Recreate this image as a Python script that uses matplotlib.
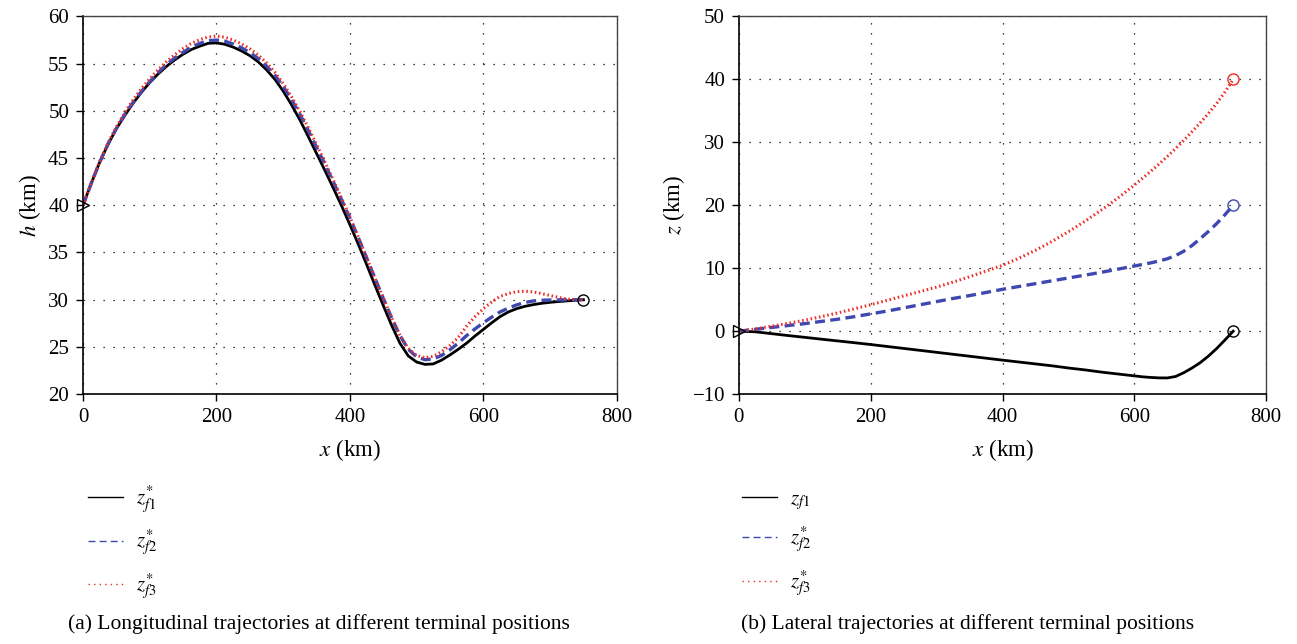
import numpy as np
import matplotlib
matplotlib.use('Agg')
import matplotlib.pyplot as plt
from matplotlib.lines import Line2D

plt.rcParams['font.family'] = ['Liberation Serif', 'DejaVu Serif']
plt.rcParams['mathtext.fontset'] = 'stix'
plt.rcParams['font.size'] = 15

BLACK = '#000000'
BLUE = '#3f48b0'
RED = '#ee2a24'

# longitudinal trajectories, h (km) against x (km)
x_long = np.arange(0, 750.1, 12.5)
h_f1 = [40.0, 42.35, 44.55, 46.45, 48.1, 49.5, 50.8, 51.95, 53.0, 53.9,
        54.7, 55.4, 56.0, 56.5, 56.85, 57.15, 57.2, 57.05, 56.75, 56.35,
        55.85, 55.2, 54.35, 53.35, 52.1, 50.65, 49.05, 47.3, 45.5, 43.7,
        41.85, 39.95, 37.95, 35.9, 33.75, 31.55, 29.4, 27.3, 25.4, 24.05,
        23.4, 23.15, 23.2, 23.6, 24.15, 24.75, 25.4, 26.15, 26.85, 27.55,
        28.2, 28.7, 29.05, 29.3, 29.48, 29.62, 29.72, 29.8, 29.87, 29.94,
        30.0]
h_f2 = [40.0, 42.35, 44.55, 46.5, 48.15, 49.6, 50.9, 52.05, 53.1, 54.05,
        54.9, 55.6, 56.2, 56.75, 57.15, 57.42, 57.5, 57.38, 57.08, 56.68,
        56.18, 55.55, 54.75, 53.8, 52.6, 51.2, 49.65, 47.95, 46.15, 44.35,
        42.5, 40.6, 38.65, 36.6, 34.45, 32.3, 30.15, 28.1, 26.2, 24.75,
        23.95, 23.65, 23.72, 24.1, 24.7, 25.4, 26.2, 26.9, 27.55, 28.15,
        28.7, 29.1, 29.45, 29.7, 29.87, 29.94, 29.97, 29.98, 29.99, 30.0,
        30.0]
h_f3 = [40.0, 42.4, 44.65, 46.6, 48.3, 49.8, 51.15, 52.35, 53.4, 54.35,
        55.2, 55.95, 56.6, 57.15, 57.55, 57.82, 57.92, 57.8, 57.5, 57.1,
        56.58, 55.92, 55.1, 54.1, 52.9, 51.5, 49.95, 48.25, 46.45, 44.6,
        42.7, 40.75, 38.75, 36.65, 34.5, 32.3, 30.15, 28.1, 26.25, 24.85,
        24.1, 23.85, 24.0, 24.5, 25.15, 26.0, 27.2, 28.2, 29.05, 29.75,
        30.35, 30.65, 30.85, 30.9, 30.82, 30.65, 30.45, 30.25, 30.07, 30.0,
        30.0]

# lateral trajectories, z (km) against x (km)
x_lat = np.concatenate([np.arange(0, 600.1, 25), np.arange(612.5, 750.1, 12.5)])
z_f1 = [0.0, -0.1, -0.4, -0.7, -0.98, -1.27, -1.55, -1.83, -2.12, -2.43,
        -2.74, -3.05, -3.36, -3.67, -3.98, -4.29, -4.6, -4.9, -5.2, -5.5,
        -5.85, -6.15, -6.5, -6.8, -7.1, -7.25, -7.35, -7.42, -7.43, -7.2,
        -6.6, -5.85, -5.0, -3.95, -2.75, -1.4, 0.0]
z_f2 = [0.0, 0.3, 0.6, 0.9, 1.2, 1.55, 1.9, 2.3, 2.75, 3.2,
        3.7, 4.2, 4.7, 5.2, 5.65, 6.15, 6.65, 7.1, 7.55, 8.0,
        8.45, 8.9, 9.35, 9.85, 10.35, 10.6, 10.85, 11.15, 11.5, 12.0,
        12.7, 13.6, 14.7, 15.85, 17.1, 18.5, 20.0]
z_f3 = [0.0, 0.35, 0.8, 1.25, 1.75, 2.3, 2.9, 3.55, 4.2, 4.9,
        5.6, 6.3, 7.0, 7.8, 8.65, 9.55, 10.45, 11.6, 12.85, 14.25,
        15.8, 17.45, 19.25, 21.15, 23.2, 24.3, 25.4, 26.55, 27.75, 29.0,
        30.3, 31.7, 33.1, 34.6, 36.2, 38.0, 40.0]

styles = [
    dict(color=BLACK, lw=2.0, ls='-'),
    dict(color=BLUE, lw=2.4, ls=(0, (3.0, 1.6))),
    dict(color=RED, lw=2.2, ls=(0, (0.5, 0.9))),
]
legend_styles = [
    dict(color=BLACK, lw=1.0, ls='-'),
    dict(color=BLUE, lw=1.0, ls=(0, (5, 3))),
    dict(color=RED, lw=1.0, ls=(0, (1, 3))),
]


def style_axes(ax):
    ax.set_xlim(0, 800)
    ax.set_xticks(range(0, 801, 200))
    ax.grid(True, color='black', ls=(0, (1, 7)), lw=0.9)
    ax.tick_params(direction='out', length=5, width=1, top=False, right=False,
                   labelsize=15, pad=5)
    for side in ['left', 'bottom']:
        ax.spines[side].set_linewidth(1.2)
    for side in ['top', 'right']:
        ax.spines[side].set_color('#444444')
        ax.spines[side].set_linewidth(1.0)
    ax.set_xlabel('$x$ (km)', fontsize=16.5, labelpad=7)


def add_legend(ax, labels, x0, y0):
    handles = [Line2D([], [], **s) for s in legend_styles]
    ax.legend(handles, labels, loc='upper left', bbox_to_anchor=(x0, y0),
              bbox_transform=ax.figure.transFigure, frameon=False,
              handlelength=1.68, handletextpad=0.6, labelspacing=0.64,
              fontsize=15)


fig = plt.figure(figsize=(12.97, 6.44), dpi=100)
ax1 = fig.add_axes([0.064, 0.388, 0.4115, 0.5865])
ax2 = fig.add_axes([0.5697, 0.388, 0.4065, 0.5865])

for h, s in zip([h_f1, h_f2, h_f3], styles):
    ax1.plot(x_long, h, **s)
ax1.plot(x_long[0], h_f1[0], marker='>', ms=9, mfc='none', mec=BLACK, mew=1.0,
         clip_on=False, zorder=5)
ax1.plot(x_long[-1], h_f1[-1], marker='o', ms=8, mfc='none', mec=BLACK, mew=1.0,
         zorder=5)
ax1.set_ylim(20, 60)
ax1.set_yticks(range(20, 61, 5))
ax1.set_ylabel('$h$ (km)', fontsize=16.5, labelpad=4)
style_axes(ax1)

for z, s in zip([z_f1, z_f2, z_f3], styles):
    ax2.plot(x_lat, z, **s)
ax2.plot(x_lat[0], z_f1[0], marker='>', ms=9, mfc='none', mec=BLACK, mew=1.0,
         clip_on=False, zorder=5)
for z, c in zip([z_f1, z_f2, z_f3], [BLACK, BLUE, RED]):
    ax2.plot(x_lat[-1], z[-1], marker='o', ms=8, mfc='none', mec=c, mew=1.0,
             zorder=5)
ax2.set_ylim(-10, 50)
ax2.set_yticks(range(-10, 51, 10))
ax2.set_ylabel('$z$ (km)', fontsize=16.5, labelpad=4)
style_axes(ax2)

add_legend(ax1, [r'$z^{*}_{f1}$', r'$z^{*}_{f2}$', r'$z^{*}_{f3}$'], 0.0535, 0.2767)
add_legend(ax2, [r'$z_{f1}$', r'$z^{*}_{f2}$', r'$z^{*}_{f3}$'], 0.558, 0.2689)

fig.text(0.246, 0.031, '(a) Longitudinal trajectories at different terminal positions',
         ha='center', va='center', fontsize=15.5)
fig.text(0.746, 0.031, '(b) Lateral trajectories at different terminal positions',
         ha='center', va='center', fontsize=15.5)

fig.savefig('out.png', dpi=100)
